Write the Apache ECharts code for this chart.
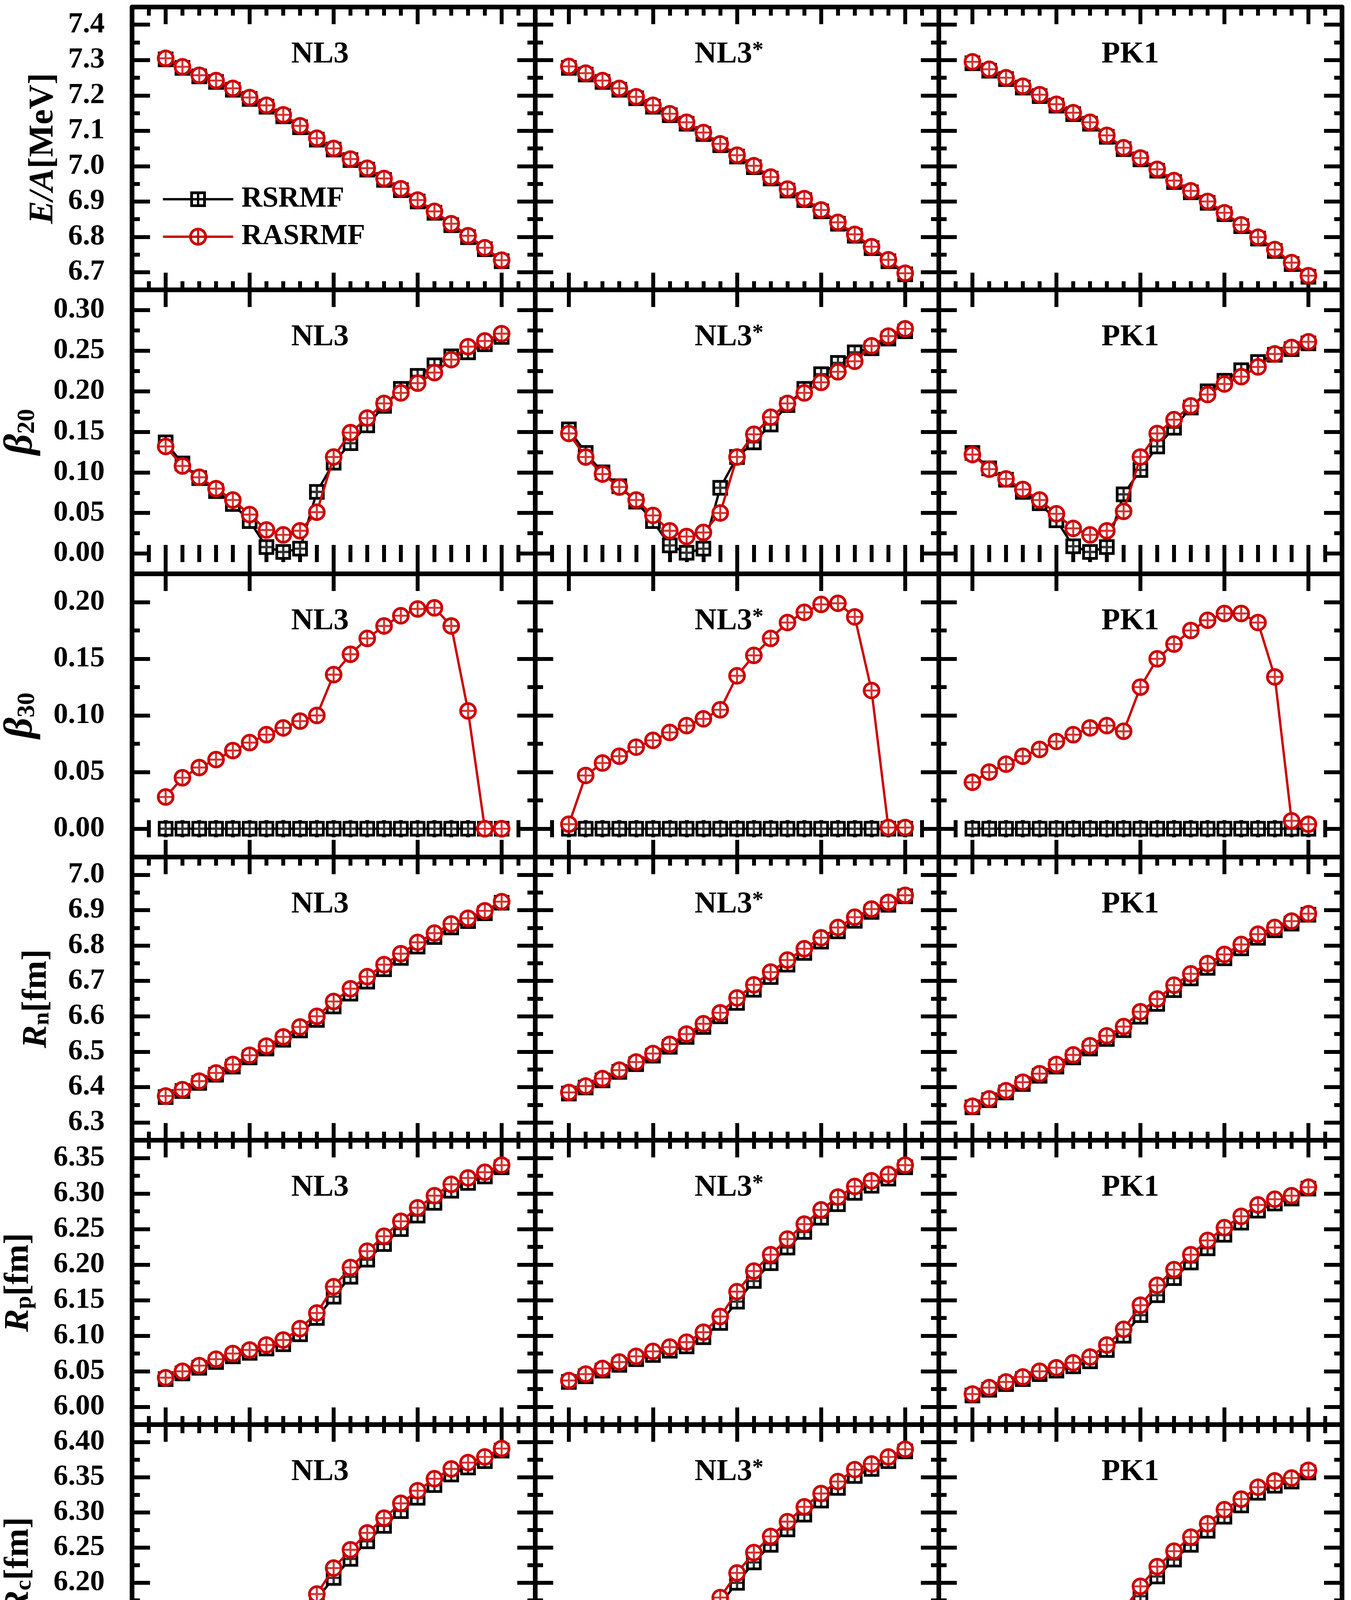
<!DOCTYPE html>
<html>
<head>
<meta charset="utf-8">
<script src="https://cdn.jsdelivr.net/npm/echarts@6/dist/echarts.min.js"></script>
<style>
  html, body { margin: 0; padding: 0; background: #fff; }
  #main { width: 3458px; height: 4658px; }
</style>
</head>
<body>
<div id="main"></div>
<script>
// neutron numbers
var neutrons = [170,172,174,176,178,180,182,184,186,188,190,192,194,196,198,200,202,204,206,208,210];
var forceNames = ['NL3', 'NL3*', 'PK1'];

// tick labels
var xTicks = [170, 180, 190, 200, 210];
var eaTicks = [6.7, 6.8, 6.9, 7.0, 7.1, 7.2, 7.3, 7.4];
var b20Ticks = [0, 0.05, 0.10, 0.15, 0.20, 0.25, 0.30];
var b30Ticks = [0, 0.05, 0.10, 0.15, 0.20];
var rnTicks = [6.3, 6.4, 6.5, 6.6, 6.7, 6.8, 6.9, 7.0];
var rpTicks = [6.00, 6.05, 6.10, 6.15, 6.20, 6.25, 6.30, 6.35];
var rcTicks = [6.05, 6.10, 6.15, 6.20, 6.25, 6.30, 6.35, 6.40];

// E/A [MeV]
var eaNl3Rs   = [7.302,7.278,7.254,7.238,7.216,7.190,7.168,7.141,7.110,7.075,7.047,7.017,6.990,6.961,6.932,6.900,6.868,6.833,6.799,6.765,6.731];
var eaNl3Ras  = [7.305,7.281,7.257,7.242,7.220,7.194,7.172,7.145,7.114,7.079,7.050,7.020,6.994,6.965,6.936,6.904,6.872,6.837,6.803,6.769,6.734];
var eaNl3sRs  = [7.278,7.259,7.238,7.216,7.192,7.168,7.144,7.120,7.091,7.059,7.027,6.997,6.965,6.931,6.904,6.872,6.837,6.803,6.768,6.731,6.694];
var eaNl3sRas = [7.282,7.263,7.242,7.220,7.196,7.172,7.148,7.124,7.095,7.063,7.031,7.001,6.969,6.935,6.908,6.876,6.841,6.807,6.772,6.735,6.697];
var eaPk1Rs   = [7.291,7.270,7.246,7.222,7.198,7.171,7.147,7.120,7.083,7.048,7.019,6.987,6.955,6.926,6.896,6.864,6.830,6.795,6.760,6.723,6.687];
var eaPk1Ras  = [7.295,7.274,7.250,7.226,7.202,7.175,7.151,7.124,7.087,7.052,7.023,6.991,6.959,6.930,6.900,6.868,6.834,6.799,6.764,6.727,6.690];

// beta20
var b20Nl3Rs   = [0.137,0.111,0.093,0.077,0.061,0.040,0.008,0.002,0.006,0.076,0.112,0.136,0.158,0.182,0.203,0.219,0.232,0.243,0.248,0.258,0.267];
var b20Nl3Ras  = [0.132,0.108,0.094,0.080,0.066,0.048,0.029,0.023,0.028,0.051,0.119,0.149,0.167,0.185,0.198,0.210,0.223,0.239,0.255,0.262,0.271];
var b20Nl3sRs  = [0.153,0.124,0.100,0.083,0.064,0.040,0.010,0.001,0.006,0.081,0.119,0.137,0.159,0.183,0.203,0.221,0.235,0.248,0.253,0.265,0.274];
var b20Nl3sRas = [0.148,0.119,0.098,0.082,0.066,0.047,0.028,0.021,0.026,0.050,0.119,0.147,0.168,0.185,0.198,0.211,0.224,0.237,0.256,0.268,0.277];
var b20Pk1Rs   = [0.124,0.105,0.091,0.076,0.062,0.041,0.009,0.002,0.008,0.073,0.103,0.132,0.155,0.180,0.200,0.213,0.226,0.236,0.245,0.252,0.259];
var b20Pk1Ras  = [0.122,0.104,0.092,0.079,0.066,0.049,0.031,0.023,0.028,0.052,0.119,0.148,0.165,0.182,0.196,0.209,0.218,0.230,0.246,0.254,0.261];

// beta30
var b30Nl3Rs   = [0,0,0,0,0,0,0,0,0,0,0,0,0,0,0,0,0,0,0,0,0];
var b30Nl3Ras  = [0.028,0.045,0.054,0.061,0.069,0.076,0.083,0.089,0.095,0.100,0.136,0.154,0.168,0.179,0.188,0.194,0.195,0.179,0.104,0.000,0.000];
var b30Nl3sRs  = [0,0,0,0,0,0,0,0,0,0,0,0,0,0,0,0,0,0,0,0,0];
var b30Nl3sRas = [0.004,0.047,0.058,0.064,0.072,0.078,0.085,0.091,0.097,0.105,0.135,0.153,0.168,0.182,0.191,0.198,0.199,0.187,0.122,0.001,0.001];
var b30Pk1Rs   = [0,0,0,0,0,0,0,0,0,0,0,0,0,0,0,0,0,0,0,0,0];
var b30Pk1Ras  = [0.041,0.050,0.057,0.064,0.070,0.077,0.083,0.089,0.091,0.086,0.125,0.150,0.163,0.175,0.184,0.190,0.190,0.182,0.134,0.007,0.004];

// Rn [fm]
var rnNl3Rs   = [6.372,6.389,6.412,6.435,6.458,6.484,6.509,6.534,6.560,6.590,6.628,6.664,6.698,6.733,6.765,6.797,6.824,6.851,6.869,6.891,6.921];
var rnNl3Ras  = [6.375,6.393,6.417,6.440,6.464,6.490,6.516,6.542,6.570,6.600,6.642,6.678,6.712,6.746,6.777,6.809,6.835,6.861,6.877,6.898,6.924];
var rnNl3sRs  = [6.382,6.399,6.419,6.443,6.465,6.489,6.514,6.542,6.570,6.600,6.638,6.675,6.711,6.746,6.779,6.811,6.840,6.870,6.895,6.915,6.939];
var rnNl3sRas = [6.385,6.403,6.424,6.448,6.471,6.495,6.521,6.550,6.579,6.610,6.652,6.689,6.725,6.759,6.791,6.822,6.851,6.880,6.903,6.922,6.942];
var rnPk1Rs   = [6.343,6.363,6.385,6.409,6.432,6.458,6.484,6.509,6.536,6.561,6.599,6.635,6.674,6.707,6.737,6.764,6.792,6.822,6.843,6.862,6.887];
var rnPk1Ras  = [6.346,6.367,6.390,6.414,6.438,6.464,6.491,6.517,6.545,6.571,6.613,6.649,6.688,6.720,6.749,6.775,6.803,6.832,6.851,6.869,6.890];

// Rp [fm]
var rpNl3Rs   = [6.039,6.047,6.055,6.063,6.071,6.076,6.082,6.088,6.102,6.125,6.155,6.183,6.207,6.229,6.250,6.269,6.287,6.304,6.315,6.324,6.337];
var rpNl3Ras  = [6.041,6.050,6.058,6.067,6.075,6.080,6.087,6.094,6.110,6.132,6.169,6.196,6.219,6.240,6.261,6.280,6.297,6.313,6.322,6.330,6.340];
var rpNl3sRs  = [6.035,6.043,6.051,6.059,6.067,6.073,6.079,6.085,6.098,6.118,6.148,6.177,6.202,6.224,6.246,6.266,6.285,6.301,6.311,6.321,6.337];
var rpNl3sRas = [6.037,6.046,6.054,6.063,6.071,6.078,6.084,6.091,6.105,6.127,6.162,6.191,6.214,6.236,6.257,6.277,6.295,6.310,6.318,6.327,6.340];
var rpPk1Rs   = [6.016,6.024,6.032,6.039,6.046,6.051,6.057,6.064,6.080,6.100,6.129,6.157,6.181,6.203,6.223,6.242,6.259,6.276,6.286,6.293,6.307];
var rpPk1Ras  = [6.018,6.027,6.035,6.042,6.050,6.055,6.062,6.070,6.087,6.109,6.143,6.171,6.193,6.214,6.234,6.252,6.268,6.284,6.292,6.297,6.309];

// Rc [fm]
var rcNl3Rs   = [6.093,6.101,6.109,6.115,6.123,6.128,6.134,6.139,6.153,6.177,6.207,6.234,6.259,6.281,6.302,6.321,6.339,6.354,6.364,6.373,6.388];
var rcNl3Ras  = [6.095,6.104,6.112,6.119,6.127,6.133,6.139,6.145,6.161,6.184,6.221,6.247,6.271,6.292,6.313,6.331,6.348,6.362,6.371,6.379,6.391];
var rcNl3sRs  = [6.089,6.097,6.105,6.112,6.119,6.125,6.131,6.137,6.150,6.170,6.200,6.229,6.254,6.276,6.297,6.317,6.335,6.352,6.362,6.373,6.387];
var rcNl3sRas = [6.091,6.100,6.108,6.116,6.123,6.130,6.136,6.143,6.157,6.179,6.214,6.243,6.266,6.287,6.308,6.327,6.344,6.361,6.369,6.379,6.390];
var rcPk1Rs   = [6.069,6.077,6.085,6.092,6.099,6.104,6.110,6.116,6.132,6.152,6.181,6.209,6.233,6.254,6.274,6.294,6.310,6.328,6.338,6.344,6.357];
var rcPk1Ras  = [6.071,6.080,6.088,6.096,6.103,6.109,6.116,6.123,6.140,6.161,6.195,6.223,6.245,6.265,6.284,6.304,6.319,6.336,6.345,6.349,6.360];

// ---- layout / style ----
var FONT = '"Liberation Serif", "Times New Roman", serif';
var RED = '#cc0000';
var colEdges = [338, 1370, 2403, 3435];
var rowEdges = [18, 742, 1469, 2194, 2919, 3647, 4374];

var rows = [
  { min: 6.65, max: 7.45, minor: 0.05, ticks: eaTicks, digits: 1, gap: 183,
    name: '{i|E/A}{n|[MeV]}', rs: [eaNl3Rs, eaNl3sRs, eaPk1Rs], ras: [eaNl3Ras, eaNl3sRas, eaPk1Ras] },
  { min: -0.025, max: 0.325, minor: 0.025, ticks: b20Ticks, digits: 2, gap: 236,
    name: '{g|β}{t|20}', rs: [b20Nl3Rs, b20Nl3sRs, b20Pk1Rs], ras: [b20Nl3Ras, b20Nl3sRas, b20Pk1Ras] },
  { min: -0.025, max: 0.225, minor: 0.025, ticks: b30Ticks, digits: 2, gap: 236,
    name: '{g|β}{t|30}', rs: [b30Nl3Rs, b30Nl3sRs, b30Pk1Rs], ras: [b30Nl3Ras, b30Nl3sRas, b30Pk1Ras] },
  { min: 6.25, max: 7.05, minor: 0.05, ticks: rnTicks, digits: 1, gap: 200,
    name: '{i|R}{s|n}{n|[fm]}', rs: [rnNl3Rs, rnNl3sRs, rnPk1Rs], ras: [rnNl3Ras, rnNl3sRas, rnPk1Ras] },
  { min: 5.975, max: 6.375, minor: 0.025, ticks: rpTicks, digits: 2, gap: 246,
    name: '{i|R}{s|p}{n|[fm]}', rs: [rpNl3Rs, rpNl3sRs, rpPk1Rs], ras: [rpNl3Ras, rpNl3sRas, rpPk1Ras] },
  { min: 6.025, max: 6.425, minor: 0.025, ticks: rcTicks, digits: 2, gap: 246,
    name: '{i|R}{s|c}{n|[fm]}', rs: [rcNl3Rs, rcNl3sRs, rcPk1Rs], ras: [rcNl3Ras, rcNl3sRas, rcPk1Ras] }
];

var nameRich = {
  i: { fontFamily: FONT, fontWeight: 'bold', fontStyle: 'italic', fontSize: 88, lineHeight: 88, color: '#000' },
  g: { fontFamily: FONT, fontWeight: 'bold', fontStyle: 'italic', fontSize: 104, lineHeight: 96, color: '#000' },
  n: { fontFamily: FONT, fontWeight: 'bold', fontSize: 88, lineHeight: 88, color: '#000' },
  s: { fontFamily: FONT, fontWeight: 'bold', fontSize: 60, lineHeight: 20, verticalAlign: 'bottom', color: '#000' },
  t: { fontFamily: FONT, fontWeight: 'bold', fontSize: 64, lineHeight: 20, verticalAlign: 'bottom', color: '#000' }
};

var crossThin = 'path://M-1.6,-10H1.6V-1.6H10V1.6H1.6V10H-1.6V1.6H-10V-1.6H-1.6Z';
var crossThick = 'path://M-2.2,-10H2.2V-2.2H10V2.2H2.2V10H-2.2V2.2H-10V-2.2H-2.2Z';
var iconRed = 'path://M0,20H180V26H0Z' +
  'M67,23A23,23,0,1,1,113,23A23,23,0,1,1,67,23Z' +
  'M74,23A16,16,0,1,0,106,23A16,16,0,1,0,74,23Z' +
  'M87.5,7H92.5V39H87.5Z';
var iconBlack = 'path://M0,0H0.1V0.1H0ZM0,45.9H0.1V46H0Z' +
  'M0,20H180V26H0Z' +
  'M70,3H110V43H70Z' +
  'M77,10V36H103V10Z' +
  'M87,3H93V43H87Z';

function pts(vals) {
  return neutrons.map(function (n, i) { return [n, vals[i]]; });
}

var grids = [], xAxes = [], yAxes = [], series = [], graphics = [];
var tickLine = { color: '#000', width: 10 };
var axisLine = { show: true, onZero: false, lineStyle: { color: '#000', width: 12 } };
var labelStyle = { fontFamily: FONT, fontWeight: 'bold', fontSize: 75, color: '#000' };

rows.forEach(function (row, r) {
  for (var c = 0; c < 3; c++) {
    var g = grids.length;
    grids.push({
      left: colEdges[c], top: rowEdges[r],
      width: colEdges[c + 1] - colEdges[c], height: rowEdges[r + 1] - rowEdges[r]
    });
    var bottomRow = (r === rows.length - 1);
    ['bottom', 'top'].forEach(function (pos) {
      var major = {
        type: 'value', gridIndex: g, position: pos, min: 166, max: 214,
        axisLine: axisLine, splitLine: { show: false },
        axisTick: { show: true, inside: true, length: 44, customValues: xTicks, lineStyle: tickLine },
        axisLabel: Object.assign({ show: bottomRow && pos === 'bottom', customValues: xTicks, margin: 58 }, labelStyle)
      };
      if (bottomRow && pos === 'bottom') {
        major.name = 'N';
        major.nameLocation = 'middle';
        major.nameGap = 202;
        major.nameTextStyle = { fontFamily: FONT, fontWeight: 'bold', fontStyle: 'italic', fontSize: 88, color: '#000' };
      }
      xAxes.push(major);
      xAxes.push({
        type: 'value', gridIndex: g, position: pos, min: 166, max: 214, interval: 2,
        axisLine: { show: false }, splitLine: { show: false },
        axisTick: { show: true, inside: true, length: 22, lineStyle: tickLine },
        axisLabel: { show: false }
      });
    });
    ['left', 'right'].forEach(function (pos) {
      var major = {
        type: 'value', gridIndex: g, position: pos, min: row.min, max: row.max,
        axisLine: axisLine, splitLine: { show: false },
        axisTick: { show: true, inside: true, length: 46, customValues: row.ticks, lineStyle: tickLine },
        axisLabel: Object.assign({
          show: c === 0 && pos === 'left', customValues: row.ticks, margin: 70,
          formatter: (function (d) { return function (v) { return v.toFixed(d); }; })(row.digits)
        }, labelStyle)
      };
      if (c === 0 && pos === 'left') {
        major.name = row.name;
        major.nameLocation = 'middle';
        major.nameRotate = 90;
        major.nameGap = row.gap;
        major.nameTextStyle = { rich: nameRich };
      }
      yAxes.push(major);
      yAxes.push({
        type: 'value', gridIndex: g, position: pos, min: row.min, max: row.max, interval: row.minor,
        axisLine: { show: false }, splitLine: { show: false },
        axisTick: { show: true, inside: true, length: 20, lineStyle: tickLine },
        axisLabel: { show: false }
      });
    });

    var xi = 4 * g, yi = 4 * g;
    series.push({
      type: 'line', name: 'RSRMF', xAxisIndex: xi, yAxisIndex: yi, data: pts(row.rs[c]),
      symbol: 'rect', symbolSize: 33, z: 2, silent: true,
      itemStyle: { color: '#fff', borderColor: '#000', borderWidth: 7 },
      lineStyle: { color: '#000', width: 6 }
    });
    series.push({
      type: 'scatter', name: 'RSRMF cross', xAxisIndex: xi, yAxisIndex: yi, data: pts(row.rs[c]),
      symbol: crossThick, symbolSize: 27, z: 3, silent: true, itemStyle: { color: '#000' }
    });
    series.push({
      type: 'line', name: 'RASRMF', xAxisIndex: xi, yAxisIndex: yi, data: pts(row.ras[c]),
      symbol: 'circle', symbolSize: 38, z: 4, silent: true,
      itemStyle: { color: '#fff', borderColor: RED, borderWidth: 7 },
      lineStyle: { color: RED, width: 6 }
    });
    series.push({
      type: 'scatter', name: 'RASRMF cross', xAxisIndex: xi, yAxisIndex: yi, data: pts(row.ras[c]),
      symbol: crossThin, symbolSize: 32, z: 5, silent: true, itemStyle: { color: RED }
    });

    // panel title
    var titleX = [819, 1866, 2893][c];
    graphics.push({
      type: 'text', x: titleX, y: rowEdges[r] + 122, z: 10,
      style: {
        text: forceNames[c] === 'NL3*' ? 'NL3{s|*}' : forceNames[c],
        fontFamily: FONT, fontWeight: 'bold', fontSize: 78, fill: '#000',
        align: 'center', verticalAlign: 'middle',
        rich: { s: { fontFamily: FONT, fontWeight: 'bold', fontSize: 58, lineHeight: 44, verticalAlign: 'top', fill: '#000' } }
      }
    });
  }
});

// Fm (Z=100) box
graphics.push({ type: 'rect', z: 10, shape: { x: 2942, y: 4179, width: 410, height: 114 }, style: { fill: '#000' } });
graphics.push({ type: 'rect', z: 11, shape: { x: 2930, y: 4167, width: 410, height: 114 }, style: { fill: '#fff', stroke: '#000', lineWidth: 10 } });
graphics.push({
  type: 'text', z: 12, x: 3135, y: 4226,
  style: { text: 'Fm (Z=100)', fontFamily: FONT, fontWeight: 'bold', fontSize: 74, fill: '#000', align: 'center', verticalAlign: 'middle' }
});

var chart = echarts.init(document.getElementById('main'), null, { renderer: 'canvas' });
chart.setOption({
  animation: false,
  backgroundColor: '#fff',
  grid: grids,
  xAxis: xAxes,
  yAxis: yAxes,
  legend: {
    data: [
      { name: 'RSRMF', icon: iconBlack, itemStyle: { color: '#000', borderWidth: 0 } },
      { name: 'RASRMF', icon: iconRed, itemStyle: { color: RED, borderWidth: 0 } }
    ],
    orient: 'vertical', left: 412, top: 468,
    itemWidth: 180, itemHeight: 46, itemGap: 22, selectedMode: false,
    textStyle: { fontFamily: FONT, fontWeight: 'bold', fontSize: 74, color: '#000', lineHeight: 46, padding: [0, 0, 0, 16] }
  },
  series: series,
  graphic: graphics
});
</script>
</body>
</html>
